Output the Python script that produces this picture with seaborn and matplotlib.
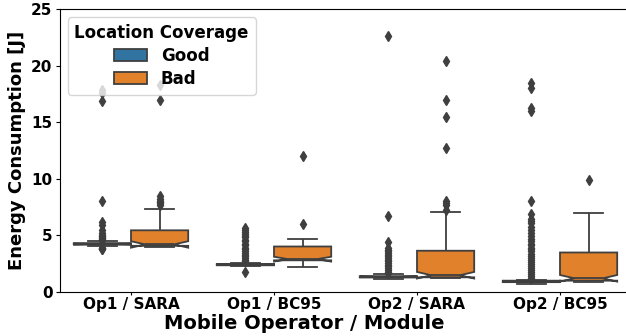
import numpy as np
import pandas as pd
import matplotlib
matplotlib.use("Agg")
import matplotlib.pyplot as plt
import seaborn as sns

modules = ["Op1 / SARA", "Op1 / BC95", "Op2 / SARA", "Op2 / BC95"]
coverage = ["Good", "Bad"]

# Energy per transmission [J]. The dense middle of each sample is stored as
# value/count bins, the sparse tail as individual measurements.
op1_sara_good_bins = [4.10, 4.15, 4.18, 4.20, 4.22, 4.25, 4.28, 4.32, 4.38]
op1_sara_good_counts = [2, 6, 12, 10, 12, 10, 12, 6, 2]
op1_sara_good_tail = [3.78, 3.84, 3.90, 3.93, 4.48, 4.55, 4.62, 4.70, 4.78, 4.86,
                      4.95, 5.05, 5.20, 5.50, 5.95, 6.20, 8.05, 16.85, 17.55, 17.85]

op1_sara_bad_bins = []
op1_sara_bad_counts = []
op1_sara_bad_tail = [3.96, 3.97, 3.98, 3.99, 4.00, 4.01, 4.02, 4.03, 4.04, 4.04,
                     4.05, 4.06, 4.06, 4.07, 4.08, 4.09, 4.10, 4.11, 4.12, 4.13,
                     4.14, 4.14, 4.15, 4.16, 4.17, 4.18, 4.18, 4.19, 4.20, 4.28,
                     4.40, 4.52, 4.65, 4.78, 4.90, 5.00, 5.08, 5.15, 5.22, 5.30,
                     5.36, 5.41, 5.45, 5.62, 5.85, 6.10, 6.45, 6.90, 7.30, 7.70,
                     7.82, 7.95, 8.08, 8.22, 8.45, 16.98, 18.30]

op1_bc95_good_bins = [2.28, 2.32, 2.36, 2.40, 2.43, 2.46, 2.52]
op1_bc95_good_counts = [2, 6, 14, 18, 14, 8, 2]
op1_bc95_good_tail = [1.80, 2.71, 2.86, 3.02, 3.14, 3.31, 3.46, 3.58, 3.77, 3.93,
                      4.11, 4.28, 4.49, 4.63, 4.82, 4.97, 5.16, 5.29, 5.47, 5.62]

op1_bc95_bad_bins = [2.25, 2.40, 2.55, 2.65, 2.72, 2.76, 2.78, 2.80, 2.83, 2.86,
                     2.88, 2.90, 3.00, 3.15, 3.30, 3.45, 3.60, 3.75, 3.88, 3.96,
                     4.02, 4.15, 4.25, 4.35, 4.45, 4.55, 4.62, 4.70]
op1_bc95_bad_counts = [1, 1, 2, 3, 5, 5, 3, 4, 6, 6,
                       4, 3, 3, 2, 2, 2, 2, 2, 2, 2,
                       3, 3, 3, 3, 2, 2, 2, 1]
op1_bc95_bad_tail = [5.97, 12.05]

op2_sara_good_bins = [1.15, 1.20, 1.24, 1.26, 1.30, 1.34, 1.37, 1.40, 1.46, 1.52, 1.57]
op2_sara_good_counts = [2, 4, 8, 12, 14, 14, 12, 12, 3, 2, 1]
op2_sara_good_tail = [1.66, 1.81, 1.97, 2.12, 2.26, 2.41, 2.55, 2.70, 2.86, 3.01,
                      3.15, 3.29, 3.44, 3.58, 3.72, 3.87, 4.46, 6.68, 22.60]

op2_sara_bad_bins = [1.21, 1.24, 1.27, 1.29, 1.30, 1.34, 1.38, 1.42, 1.46, 1.50,
                     1.60, 1.75, 1.95, 2.20, 2.45, 2.70, 2.95, 3.20, 3.45, 3.62,
                     3.72, 3.90, 4.10, 4.35, 4.60, 4.85, 5.10, 5.40, 5.70, 6.00,
                     6.30, 6.60, 6.90, 7.10, 7.27]
op2_sara_bad_counts = [4, 10, 14, 12, 6, 10, 10, 8, 6, 4,
                       4, 4, 4, 4, 4, 4, 4, 3, 3, 2,
                       3, 3, 3, 3, 3, 2, 2, 2, 2, 2,
                       2, 2, 2, 1, 1]
op2_sara_bad_tail = [7.70, 7.85, 8.00, 12.70, 15.50, 16.95, 20.45]

op2_bc95_good_bins = [0.70, 0.76, 0.80, 0.84, 0.87, 0.90, 0.93, 0.96, 1.00, 1.04]
op2_bc95_good_counts = [2, 4, 8, 20, 24, 22, 16, 8, 4, 2]
op2_bc95_good_tail = [1.22, 1.38, 1.57, 1.74, 1.95, 2.11, 2.33, 2.49, 2.68, 2.86,
                      3.03, 3.22, 3.37, 3.58, 3.76, 3.91, 4.12, 4.27, 4.48, 4.66,
                      4.95, 5.18, 5.50, 5.75, 6.10, 6.30, 6.48, 6.85, 8.00, 16.00,
                      16.25, 18.00, 18.45]

op2_bc95_bad_bins = [0.92, 0.94, 0.96, 0.98, 1.00, 1.04, 1.08, 1.12, 1.16, 1.21,
                     1.30, 1.45, 1.65, 1.85, 2.05, 2.30, 2.55, 2.80, 3.05, 3.25,
                     3.40, 3.49, 3.65, 3.85, 4.05, 4.25, 4.50, 4.75, 5.00, 5.25,
                     5.50, 5.80, 6.10, 6.40, 6.70, 6.97]
op2_bc95_bad_counts = [5, 10, 14, 16, 6, 10, 12, 10, 7, 4,
                       4, 4, 4, 4, 4, 4, 4, 4, 4, 3,
                       2, 3, 4, 4, 4, 3, 3, 3, 3, 3,
                       3, 3, 3, 2, 2, 2]
op2_bc95_bad_tail = [9.93]

samples = {
    ("Op1 / SARA", "Good"): (op1_sara_good_bins, op1_sara_good_counts, op1_sara_good_tail),
    ("Op1 / SARA", "Bad"): (op1_sara_bad_bins, op1_sara_bad_counts, op1_sara_bad_tail),
    ("Op1 / BC95", "Good"): (op1_bc95_good_bins, op1_bc95_good_counts, op1_bc95_good_tail),
    ("Op1 / BC95", "Bad"): (op1_bc95_bad_bins, op1_bc95_bad_counts, op1_bc95_bad_tail),
    ("Op2 / SARA", "Good"): (op2_sara_good_bins, op2_sara_good_counts, op2_sara_good_tail),
    ("Op2 / SARA", "Bad"): (op2_sara_bad_bins, op2_sara_bad_counts, op2_sara_bad_tail),
    ("Op2 / BC95", "Good"): (op2_bc95_good_bins, op2_bc95_good_counts, op2_bc95_good_tail),
    ("Op2 / BC95", "Bad"): (op2_bc95_bad_bins, op2_bc95_bad_counts, op2_bc95_bad_tail),
}

rows = []
for (module, cov), (bins, counts, tail) in samples.items():
    values = np.concatenate([
        np.repeat(np.asarray(bins, dtype=float), np.asarray(counts, dtype=int)),
        np.asarray(tail, dtype=float),
    ])
    rows.append(pd.DataFrame({"module": module, "coverage": cov, "energy": values}))
df = pd.concat(rows, ignore_index=True)

line_gray = "#3f3f3f"

fig = plt.figure(figsize=(6.26, 3.36), dpi=100)
ax = fig.add_axes([59.5 / 626, 44 / 336, 572 / 626, 283 / 336])

sns.boxplot(
    data=df, x="module", y="energy", hue="coverage",
    order=modules, hue_order=coverage,
    notch=True, saturation=0.75, linecolor=line_gray, linewidth=1.3,
    fliersize=5,
    flierprops=dict(marker="d", markerfacecolor=line_gray, markeredgecolor=line_gray),
    ax=ax,
)

ax.set_xlim(-0.5, 3.5)
ax.set_ylim(0, 25)
ax.set_yticks([0, 5, 10, 15, 20, 25])
ax.tick_params(axis="x", labelsize=11, length=2.5, pad=1)
ax.tick_params(axis="y", labelsize=11, length=3, pad=2)
for lbl in ax.get_xticklabels() + ax.get_yticklabels():
    lbl.set_fontweight("bold")

ax.set_xlabel("Mobile Operator / Module", fontsize=14, fontweight="bold")
ax.xaxis.set_label_coords(0.428, -0.0795)
ax.set_ylabel("Energy Consumption [J]", fontsize=13, fontweight="bold", labelpad=4)

handles, labels = ax.get_legend_handles_labels()
ax.legend(handles, labels, title="Location Coverage", loc="upper left",
          labelspacing=0.3,
          prop={"weight": "bold", "size": 12},
          title_fontproperties={"weight": "bold", "size": 12})

fig.savefig("out.png", dpi=100)
